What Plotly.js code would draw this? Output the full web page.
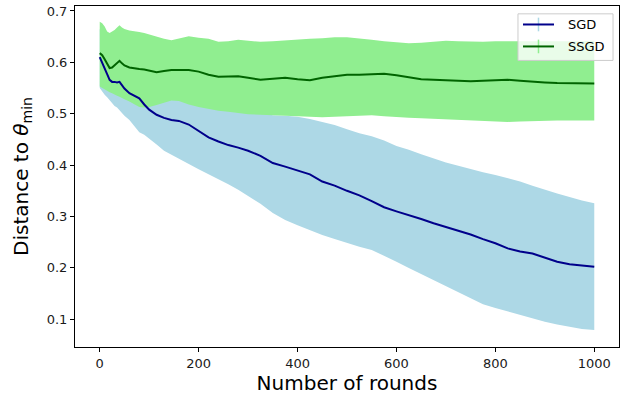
<!DOCTYPE html>
<html>
<head>
<meta charset="utf-8">
<script src="https://cdn.plot.ly/plotly-3.0.1.min.js"></script>
<style>
html,body{margin:0;padding:0;background:#fff;}
#chart{width:628px;height:403px;}
</style>
</head>
<body>
<div id="chart"></div>
<script>
// Rounds (x values)
const rounds = [0,5,10,15,20,25,30,35,40,45,50,60,70,80,90,100,115,130,145,160,180,200,220,240,260,280,300,325,350,375,400,425,450,475,500,525,550,575,600,625,650,675,700,725,750,775,800,825,850,875,900,925,950,975,1000];

// SGD mean and band
const sgdMean = [0.610,0.600,0.588,0.577,0.566,0.562,0.562,0.561,0.562,0.556,0.549,0.540,0.535,0.530,0.518,0.508,0.498,0.492,0.488,0.486,0.479,0.466,0.454,0.446,0.439,0.434,0.428,0.418,0.404,0.397,0.390,0.382,0.368,0.360,0.350,0.341,0.330,0.318,0.310,0.303,0.295,0.287,0.280,0.272,0.265,0.256,0.248,0.238,0.232,0.228,0.220,0.212,0.207,0.205,0.202];
const sgdLower = [0.550,0.543,0.537,0.532,0.526,0.520,0.515,0.512,0.506,0.500,0.496,0.488,0.476,0.464,0.459,0.452,0.440,0.428,0.420,0.413,0.403,0.392,0.382,0.373,0.363,0.352,0.340,0.325,0.307,0.293,0.283,0.273,0.264,0.256,0.248,0.241,0.235,0.224,0.212,0.200,0.188,0.176,0.165,0.153,0.140,0.129,0.122,0.115,0.108,0.101,0.095,0.090,0.085,0.081,0.079];
const sgdUpper = [0.665,0.655,0.640,0.625,0.610,0.605,0.605,0.605,0.610,0.605,0.600,0.592,0.590,0.596,0.577,0.564,0.556,0.556,0.556,0.559,0.555,0.540,0.526,0.519,0.515,0.512,0.508,0.502,0.497,0.496,0.494,0.490,0.484,0.478,0.470,0.462,0.456,0.448,0.437,0.430,0.421,0.413,0.405,0.399,0.392,0.386,0.381,0.375,0.368,0.360,0.352,0.345,0.338,0.331,0.326];

// SSGD mean and band
const ssgdMean = [0.618,0.614,0.606,0.598,0.589,0.590,0.594,0.598,0.603,0.598,0.594,0.590,0.588,0.587,0.586,0.584,0.581,0.583,0.585,0.585,0.585,0.582,0.576,0.572,0.573,0.573,0.570,0.566,0.568,0.570,0.567,0.565,0.570,0.573,0.576,0.576,0.577,0.578,0.575,0.571,0.567,0.566,0.565,0.565,0.563,0.564,0.565,0.566,0.564,0.562,0.561,0.560,0.560,0.559,0.559];
const ssgdUpper = [0.679,0.676,0.670,0.660,0.657,0.660,0.663,0.668,0.672,0.668,0.665,0.662,0.661,0.659,0.657,0.654,0.650,0.646,0.643,0.646,0.651,0.648,0.646,0.640,0.641,0.644,0.642,0.640,0.641,0.643,0.645,0.646,0.647,0.649,0.649,0.647,0.644,0.641,0.639,0.637,0.638,0.640,0.642,0.641,0.640,0.640,0.641,0.641,0.640,0.640,0.640,0.640,0.641,0.641,0.642];
const ssgdLower = [0.553,0.550,0.547,0.544,0.542,0.540,0.537,0.535,0.533,0.530,0.528,0.524,0.519,0.513,0.512,0.513,0.517,0.521,0.526,0.525,0.518,0.513,0.509,0.506,0.504,0.501,0.499,0.498,0.497,0.496,0.495,0.494,0.493,0.494,0.495,0.496,0.497,0.495,0.493,0.492,0.491,0.490,0.489,0.488,0.487,0.486,0.485,0.484,0.485,0.486,0.487,0.487,0.487,0.487,0.487];

const seriesNames = ['SGD','SSGD'];
const xTicks = [0,200,400,600,800,1000];
const yTicks = [0.1,0.2,0.3,0.4,0.5,0.6,0.7];

const traces = [
  {x: rounds, y: sgdLower, mode:'lines', line:{width:0, color:'#add8e6'}, showlegend:false, hoverinfo:'skip'},
  {x: rounds, y: sgdUpper, mode:'lines', line:{width:0, color:'#add8e6'}, fill:'tonexty', fillcolor:'#add8e6', showlegend:false, hoverinfo:'skip'},
  {x: rounds, y: ssgdLower, mode:'lines', line:{width:0, color:'#90ee90'}, showlegend:false, hoverinfo:'skip'},
  {x: rounds, y: ssgdUpper, mode:'lines', line:{width:0, color:'#90ee90'}, fill:'tonexty', fillcolor:'#90ee90', showlegend:false, hoverinfo:'skip'},
  {x: rounds, y: sgdMean, mode:'lines', name: seriesNames[0], line:{width:2, color:'#00008b'}, showlegend:false},
  {x: rounds, y: ssgdMean, mode:'lines', name: seriesNames[1], line:{width:2, color:'#006400'}, showlegend:false}
];

// legend drawn in paper coordinates
const L = {x0:0.8143, x1:0.989, y0:0.8404, y1:0.977};
const rows = [{y:0.9458, line:'#00008b', bar:'#add8e6'}, {y:0.8814, line:'#006400', bar:'#90ee90'}];
const shapes = [
  {type:'rect', xref:'paper', yref:'paper', x0:L.x0, x1:L.x1, y0:L.y0, y1:L.y1, fillcolor:'rgba(255,255,255,0.8)', line:{color:'#cccccc', width:1}, layer:'above'}
];
const annotations = [];
rows.forEach((r,i)=>{
  shapes.push({type:'line', xref:'paper', yref:'paper', x0:0.852, x1:0.852, y0:r.y-0.02, y1:r.y+0.02, line:{color:r.bar, width:1.5}, layer:'above'});
  shapes.push({type:'line', xref:'paper', yref:'paper', x0:0.8235, x1:0.8805, y0:r.y, y1:r.y, line:{color:r.line, width:2}, layer:'above'});
  annotations.push({xref:'paper', yref:'paper', x:0.9026, y:r.y, xanchor:'left', yanchor:'middle', text:seriesNames[i], showarrow:false, font:{family:'DejaVu Sans', size:13, color:'#000'}});
});

const layout = {
  width:628, height:403,
  margin:{l:75, r:9, t:6, b:56, pad:0},
  paper_bgcolor:'#fff', plot_bgcolor:'#fff',
  showlegend:false,
  font:{family:'DejaVu Sans', size:13, color:'#1a1a1a'},
  xaxis:{
    range:[-50,1050], tickvals:xTicks, ticktext:xTicks.map(String),
    showgrid:false, zeroline:false, showline:true, mirror:true, linecolor:'#000', linewidth:1,
    ticks:'outside', ticklen:4, tickwidth:1, tickcolor:'#000',
    tickfont:{family:'DejaVu Sans', size:13, color:'#1a1a1a'},
    title:{text:'Number of rounds', font:{family:'DejaVu Sans', size:20, color:'#000'}, standoff:5}
  },
  yaxis:{
    range:[0.046,0.7097], tickvals:yTicks, ticktext:yTicks.map(v=>v.toFixed(1)),
    showgrid:false, zeroline:false, showline:true, mirror:true, linecolor:'#000', linewidth:1,
    ticks:'outside', ticklen:4, tickwidth:1, tickcolor:'#000',
    tickfont:{family:'DejaVu Sans', size:13, color:'#1a1a1a'},
    title:{text:'Distance to <i>θ</i><sub>min</sub>', font:{family:'DejaVu Sans', size:20, color:'#000'}, standoff:12}
  },
  shapes: shapes,
  annotations: annotations
};

Plotly.newPlot('chart', traces, layout, {staticPlot:true, displayModeBar:false});
</script>
</body>
</html>
